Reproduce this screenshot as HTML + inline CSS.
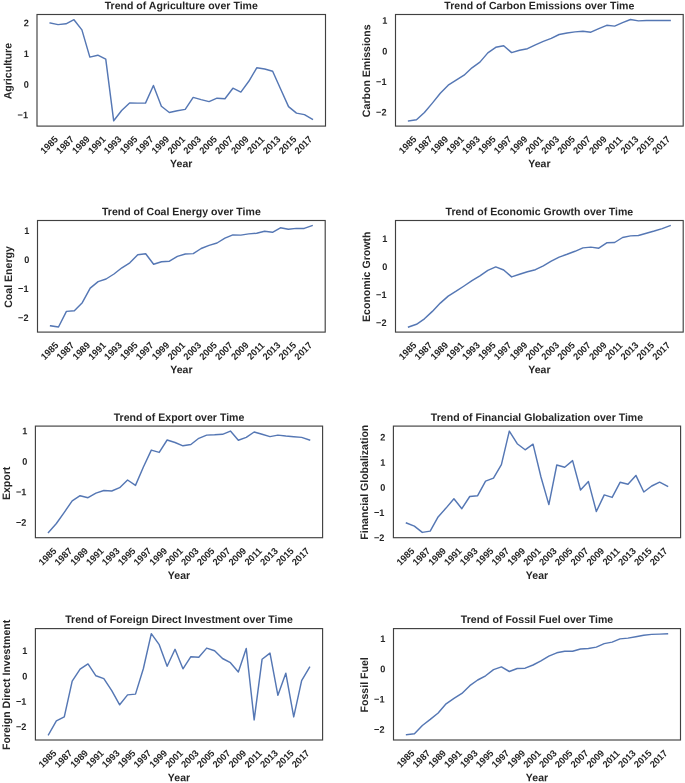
<!DOCTYPE html>
<html><head><meta charset="utf-8"><style>
html,body{margin:0;padding:0;background:#fff;}
svg{display:block;will-change:transform;}
text{font-family:"Liberation Sans", sans-serif;font-weight:bold;fill:#262626;text-rendering:geometricPrecision;}
</style></head><body>
<svg width="685" height="783" viewBox="0 0 685 783">

<rect width="685" height="783" fill="#fff"/>
<g><polyline points="50.11,23 58.06,24.6 66.01,23.8 73.96,19.7 81.9,29.9 89.85,57.1 97.8,55.2 105.75,59.2 113.69,120.8 121.64,110.5 129.59,102.9 137.54,103.1 145.49,103.1 153.43,85.5 161.38,106.2 169.33,112.5 177.28,110.8 185.22,109.4 193.17,97.4 201.12,99.6 209.07,101.6 217.01,98.2 224.96,98.7 232.91,88.2 240.86,92.1 248.81,81.3 256.75,67.8 264.7,69 272.65,71.3 280.6,89 288.54,106.6 296.49,113.1 304.44,114.6 312.39,119.2" fill="none" stroke="#5577b4" stroke-width="1.45" stroke-linejoin="round" stroke-linecap="square"/><rect x="37" y="14.5" width="288.5" height="111.6" fill="none" stroke="#404040" stroke-width="1.15"/><text transform="translate(181.25,9.3) skewX(0.3) skewY(0.05) scale(1,1.02)" text-anchor="middle" font-size="10.57">Trend of Agriculture over Time</text><text transform="translate(29,26.33) skewX(0.3) skewY(0.05) scale(1,1.035)" text-anchor="end" font-size="9.2">2</text><text transform="translate(29,56.98) skewX(0.3) skewY(0.05) scale(1,1.035)" text-anchor="end" font-size="9.2">1</text><text transform="translate(29,87.68) skewX(0.3) skewY(0.05) scale(1,1.035)" text-anchor="end" font-size="9.2">0</text><text transform="translate(28,118.33) skewX(0.3) skewY(0.05) scale(1,1.035)" text-anchor="end" font-size="9.2">−1</text><text transform="translate(49.11,144.86) rotate(-45) scale(1,1.035)" x="0" y="3.16" text-anchor="middle" font-size="9.2">1985</text><text transform="translate(65.01,144.86) rotate(-45) scale(1,1.035)" x="0" y="3.16" text-anchor="middle" font-size="9.2">1987</text><text transform="translate(80.9,144.86) rotate(-45) scale(1,1.035)" x="0" y="3.16" text-anchor="middle" font-size="9.2">1989</text><text transform="translate(96.8,144.86) rotate(-45) scale(1,1.035)" x="0" y="3.16" text-anchor="middle" font-size="9.2">1991</text><text transform="translate(112.69,144.86) rotate(-45) scale(1,1.035)" x="0" y="3.16" text-anchor="middle" font-size="9.2">1993</text><text transform="translate(128.59,144.86) rotate(-45) scale(1,1.035)" x="0" y="3.16" text-anchor="middle" font-size="9.2">1995</text><text transform="translate(144.49,144.86) rotate(-45) scale(1,1.035)" x="0" y="3.16" text-anchor="middle" font-size="9.2">1997</text><text transform="translate(160.38,144.86) rotate(-45) scale(1,1.035)" x="0" y="3.16" text-anchor="middle" font-size="9.2">1999</text><text transform="translate(176.28,144.86) rotate(-45) scale(1,1.035)" x="0" y="3.16" text-anchor="middle" font-size="9.2">2001</text><text transform="translate(192.17,144.86) rotate(-45) scale(1,1.035)" x="0" y="3.16" text-anchor="middle" font-size="9.2">2003</text><text transform="translate(208.07,144.86) rotate(-45) scale(1,1.035)" x="0" y="3.16" text-anchor="middle" font-size="9.2">2005</text><text transform="translate(223.96,144.86) rotate(-45) scale(1,1.035)" x="0" y="3.16" text-anchor="middle" font-size="9.2">2007</text><text transform="translate(239.86,144.86) rotate(-45) scale(1,1.035)" x="0" y="3.16" text-anchor="middle" font-size="9.2">2009</text><text transform="translate(255.75,144.86) rotate(-45) scale(1,1.035)" x="0" y="3.16" text-anchor="middle" font-size="9.2">2011</text><text transform="translate(271.65,144.86) rotate(-45) scale(1,1.035)" x="0" y="3.16" text-anchor="middle" font-size="9.2">2013</text><text transform="translate(287.54,144.86) rotate(-45) scale(1,1.035)" x="0" y="3.16" text-anchor="middle" font-size="9.2">2015</text><text transform="translate(303.44,144.86) rotate(-45) scale(1,1.035)" x="0" y="3.16" text-anchor="middle" font-size="9.2">2017</text><text transform="translate(181.25,167.2) skewX(0.3) skewY(0.05) scale(1,1.02)" text-anchor="middle" font-size="10.57">Year</text><text transform="translate(11.6,71.15) rotate(-90) skewX(0.3) skewY(0.05) scale(1,1.02)" text-anchor="middle" font-size="10.57">Agriculture</text></g>
<g><polyline points="408.58,121 416.5,119.8 424.43,112.5 432.35,103.1 440.28,93.3 448.21,85.2 456.13,80.2 464.06,75.2 471.98,67.8 479.91,62.1 487.83,52.9 495.76,47.3 503.68,45.7 511.61,52.6 519.54,50.2 527.46,48.7 535.39,44.8 543.31,41.4 551.24,38.4 559.16,34.5 567.09,33 575.02,31.9 582.94,31.2 590.87,32.2 598.79,28.6 606.72,25.3 614.64,26.1 622.57,22.6 630.49,19.5 638.42,20.9 646.35,20.5 654.27,20.5 662.2,20.5 670.12,20.5" fill="none" stroke="#5577b4" stroke-width="1.45" stroke-linejoin="round" stroke-linecap="square"/><rect x="395.5" y="14.5" width="287.7" height="111.6" fill="none" stroke="#404040" stroke-width="1.15"/><text transform="translate(539.35,9.3) skewX(0.3) skewY(0.05) scale(1,1.02)" text-anchor="middle" font-size="10.57">Trend of Carbon Emissions over Time</text><text transform="translate(387.5,23.85) skewX(0.3) skewY(0.05) scale(1,1.035)" text-anchor="end" font-size="9.2">1</text><text transform="translate(387.5,54.38) skewX(0.3) skewY(0.05) scale(1,1.035)" text-anchor="end" font-size="9.2">0</text><text transform="translate(386.5,84.91) skewX(0.3) skewY(0.05) scale(1,1.035)" text-anchor="end" font-size="9.2">−1</text><text transform="translate(386.5,115.44) skewX(0.3) skewY(0.05) scale(1,1.035)" text-anchor="end" font-size="9.2">−2</text><text transform="translate(407.58,144.86) rotate(-45) scale(1,1.035)" x="0" y="3.16" text-anchor="middle" font-size="9.2">1985</text><text transform="translate(423.43,144.86) rotate(-45) scale(1,1.035)" x="0" y="3.16" text-anchor="middle" font-size="9.2">1987</text><text transform="translate(439.28,144.86) rotate(-45) scale(1,1.035)" x="0" y="3.16" text-anchor="middle" font-size="9.2">1989</text><text transform="translate(455.13,144.86) rotate(-45) scale(1,1.035)" x="0" y="3.16" text-anchor="middle" font-size="9.2">1991</text><text transform="translate(470.98,144.86) rotate(-45) scale(1,1.035)" x="0" y="3.16" text-anchor="middle" font-size="9.2">1993</text><text transform="translate(486.83,144.86) rotate(-45) scale(1,1.035)" x="0" y="3.16" text-anchor="middle" font-size="9.2">1995</text><text transform="translate(502.68,144.86) rotate(-45) scale(1,1.035)" x="0" y="3.16" text-anchor="middle" font-size="9.2">1997</text><text transform="translate(518.54,144.86) rotate(-45) scale(1,1.035)" x="0" y="3.16" text-anchor="middle" font-size="9.2">1999</text><text transform="translate(534.39,144.86) rotate(-45) scale(1,1.035)" x="0" y="3.16" text-anchor="middle" font-size="9.2">2001</text><text transform="translate(550.24,144.86) rotate(-45) scale(1,1.035)" x="0" y="3.16" text-anchor="middle" font-size="9.2">2003</text><text transform="translate(566.09,144.86) rotate(-45) scale(1,1.035)" x="0" y="3.16" text-anchor="middle" font-size="9.2">2005</text><text transform="translate(581.94,144.86) rotate(-45) scale(1,1.035)" x="0" y="3.16" text-anchor="middle" font-size="9.2">2007</text><text transform="translate(597.79,144.86) rotate(-45) scale(1,1.035)" x="0" y="3.16" text-anchor="middle" font-size="9.2">2009</text><text transform="translate(613.64,144.86) rotate(-45) scale(1,1.035)" x="0" y="3.16" text-anchor="middle" font-size="9.2">2011</text><text transform="translate(629.49,144.86) rotate(-45) scale(1,1.035)" x="0" y="3.16" text-anchor="middle" font-size="9.2">2013</text><text transform="translate(645.35,144.86) rotate(-45) scale(1,1.035)" x="0" y="3.16" text-anchor="middle" font-size="9.2">2015</text><text transform="translate(661.2,144.86) rotate(-45) scale(1,1.035)" x="0" y="3.16" text-anchor="middle" font-size="9.2">2017</text><text transform="translate(539.35,167.2) skewX(0.3) skewY(0.05) scale(1,1.02)" text-anchor="middle" font-size="10.57">Year</text><text transform="translate(370.1,70.75) rotate(-90) skewX(0.3) skewY(0.05) scale(1,1.02)" text-anchor="middle" font-size="10.57">Carbon Emissions</text></g>
<g><polyline points="50.58,325.8 58.5,327 66.43,311.4 74.35,310.8 82.28,302.7 90.21,288.1 98.13,281.6 106.06,279 113.98,274 121.91,267.8 129.83,262.8 137.76,254.7 145.68,253.7 153.61,264.3 161.54,261.7 169.46,261.2 177.39,256.4 185.31,254 193.24,253.6 201.16,248.5 209.09,245.4 217.02,243 224.94,238.2 232.87,234.9 240.79,235.1 248.72,233.9 256.64,233.3 264.57,231.3 272.49,232.3 280.42,227.8 288.35,229.2 296.27,228.4 304.2,228.4 312.12,225.6" fill="none" stroke="#5577b4" stroke-width="1.45" stroke-linejoin="round" stroke-linecap="square"/><rect x="37.5" y="220.5" width="287.7" height="111.6" fill="none" stroke="#404040" stroke-width="1.15"/><text transform="translate(181.35,215.3) skewX(0.3) skewY(0.05) scale(1,1.02)" text-anchor="middle" font-size="10.57">Trend of Coal Energy over Time</text><text transform="translate(29.5,233.88) skewX(0.3) skewY(0.05) scale(1,1.035)" text-anchor="end" font-size="9.2">1</text><text transform="translate(29.5,262.88) skewX(0.3) skewY(0.05) scale(1,1.035)" text-anchor="end" font-size="9.2">0</text><text transform="translate(28.5,291.88) skewX(0.3) skewY(0.05) scale(1,1.035)" text-anchor="end" font-size="9.2">−1</text><text transform="translate(28.5,320.98) skewX(0.3) skewY(0.05) scale(1,1.035)" text-anchor="end" font-size="9.2">−2</text><text transform="translate(49.58,350.86) rotate(-45) scale(1,1.035)" x="0" y="3.16" text-anchor="middle" font-size="9.2">1985</text><text transform="translate(65.43,350.86) rotate(-45) scale(1,1.035)" x="0" y="3.16" text-anchor="middle" font-size="9.2">1987</text><text transform="translate(81.28,350.86) rotate(-45) scale(1,1.035)" x="0" y="3.16" text-anchor="middle" font-size="9.2">1989</text><text transform="translate(97.13,350.86) rotate(-45) scale(1,1.035)" x="0" y="3.16" text-anchor="middle" font-size="9.2">1991</text><text transform="translate(112.98,350.86) rotate(-45) scale(1,1.035)" x="0" y="3.16" text-anchor="middle" font-size="9.2">1993</text><text transform="translate(128.83,350.86) rotate(-45) scale(1,1.035)" x="0" y="3.16" text-anchor="middle" font-size="9.2">1995</text><text transform="translate(144.68,350.86) rotate(-45) scale(1,1.035)" x="0" y="3.16" text-anchor="middle" font-size="9.2">1997</text><text transform="translate(160.54,350.86) rotate(-45) scale(1,1.035)" x="0" y="3.16" text-anchor="middle" font-size="9.2">1999</text><text transform="translate(176.39,350.86) rotate(-45) scale(1,1.035)" x="0" y="3.16" text-anchor="middle" font-size="9.2">2001</text><text transform="translate(192.24,350.86) rotate(-45) scale(1,1.035)" x="0" y="3.16" text-anchor="middle" font-size="9.2">2003</text><text transform="translate(208.09,350.86) rotate(-45) scale(1,1.035)" x="0" y="3.16" text-anchor="middle" font-size="9.2">2005</text><text transform="translate(223.94,350.86) rotate(-45) scale(1,1.035)" x="0" y="3.16" text-anchor="middle" font-size="9.2">2007</text><text transform="translate(239.79,350.86) rotate(-45) scale(1,1.035)" x="0" y="3.16" text-anchor="middle" font-size="9.2">2009</text><text transform="translate(255.64,350.86) rotate(-45) scale(1,1.035)" x="0" y="3.16" text-anchor="middle" font-size="9.2">2011</text><text transform="translate(271.49,350.86) rotate(-45) scale(1,1.035)" x="0" y="3.16" text-anchor="middle" font-size="9.2">2013</text><text transform="translate(287.35,350.86) rotate(-45) scale(1,1.035)" x="0" y="3.16" text-anchor="middle" font-size="9.2">2015</text><text transform="translate(303.2,350.86) rotate(-45) scale(1,1.035)" x="0" y="3.16" text-anchor="middle" font-size="9.2">2017</text><text transform="translate(181.35,373.3) skewX(0.3) skewY(0.05) scale(1,1.02)" text-anchor="middle" font-size="10.57">Year</text><text transform="translate(12.1,277) rotate(-90) skewX(0.3) skewY(0.05) scale(1,1.02)" text-anchor="middle" font-size="10.57">Coal Energy</text></g>
<g><polyline points="408.58,327 416.5,324.3 424.43,318.8 432.35,311.4 440.28,303.1 448.21,296.1 456.13,291.2 464.06,286 471.98,280.6 479.91,275.8 487.83,270.4 495.76,266.9 503.68,270 511.61,276.9 519.54,274.3 527.46,271.7 535.39,269.7 543.31,265.8 551.24,261.2 559.16,257.1 567.09,254.3 575.02,251.3 582.94,247.9 590.87,247.1 598.79,248.2 606.72,242.8 614.64,242.5 622.57,237.5 630.49,235.9 638.42,235.5 646.35,233.2 654.27,231 662.2,228.6 670.12,225.6" fill="none" stroke="#5577b4" stroke-width="1.45" stroke-linejoin="round" stroke-linecap="square"/><rect x="395.5" y="220.5" width="287.7" height="111.6" fill="none" stroke="#404040" stroke-width="1.15"/><text transform="translate(539.35,215.3) skewX(0.3) skewY(0.05) scale(1,1.02)" text-anchor="middle" font-size="10.57">Trend of Economic Growth over Time</text><text transform="translate(387.5,242.08) skewX(0.3) skewY(0.05) scale(1,1.035)" text-anchor="end" font-size="9.2">1</text><text transform="translate(387.5,270.08) skewX(0.3) skewY(0.05) scale(1,1.035)" text-anchor="end" font-size="9.2">0</text><text transform="translate(386.5,298.08) skewX(0.3) skewY(0.05) scale(1,1.035)" text-anchor="end" font-size="9.2">−1</text><text transform="translate(386.5,325.98) skewX(0.3) skewY(0.05) scale(1,1.035)" text-anchor="end" font-size="9.2">−2</text><text transform="translate(407.58,350.86) rotate(-45) scale(1,1.035)" x="0" y="3.16" text-anchor="middle" font-size="9.2">1985</text><text transform="translate(423.43,350.86) rotate(-45) scale(1,1.035)" x="0" y="3.16" text-anchor="middle" font-size="9.2">1987</text><text transform="translate(439.28,350.86) rotate(-45) scale(1,1.035)" x="0" y="3.16" text-anchor="middle" font-size="9.2">1989</text><text transform="translate(455.13,350.86) rotate(-45) scale(1,1.035)" x="0" y="3.16" text-anchor="middle" font-size="9.2">1991</text><text transform="translate(470.98,350.86) rotate(-45) scale(1,1.035)" x="0" y="3.16" text-anchor="middle" font-size="9.2">1993</text><text transform="translate(486.83,350.86) rotate(-45) scale(1,1.035)" x="0" y="3.16" text-anchor="middle" font-size="9.2">1995</text><text transform="translate(502.68,350.86) rotate(-45) scale(1,1.035)" x="0" y="3.16" text-anchor="middle" font-size="9.2">1997</text><text transform="translate(518.54,350.86) rotate(-45) scale(1,1.035)" x="0" y="3.16" text-anchor="middle" font-size="9.2">1999</text><text transform="translate(534.39,350.86) rotate(-45) scale(1,1.035)" x="0" y="3.16" text-anchor="middle" font-size="9.2">2001</text><text transform="translate(550.24,350.86) rotate(-45) scale(1,1.035)" x="0" y="3.16" text-anchor="middle" font-size="9.2">2003</text><text transform="translate(566.09,350.86) rotate(-45) scale(1,1.035)" x="0" y="3.16" text-anchor="middle" font-size="9.2">2005</text><text transform="translate(581.94,350.86) rotate(-45) scale(1,1.035)" x="0" y="3.16" text-anchor="middle" font-size="9.2">2007</text><text transform="translate(597.79,350.86) rotate(-45) scale(1,1.035)" x="0" y="3.16" text-anchor="middle" font-size="9.2">2009</text><text transform="translate(613.64,350.86) rotate(-45) scale(1,1.035)" x="0" y="3.16" text-anchor="middle" font-size="9.2">2011</text><text transform="translate(629.49,350.86) rotate(-45) scale(1,1.035)" x="0" y="3.16" text-anchor="middle" font-size="9.2">2013</text><text transform="translate(645.35,350.86) rotate(-45) scale(1,1.035)" x="0" y="3.16" text-anchor="middle" font-size="9.2">2015</text><text transform="translate(661.2,350.86) rotate(-45) scale(1,1.035)" x="0" y="3.16" text-anchor="middle" font-size="9.2">2017</text><text transform="translate(539.35,373.3) skewX(0.3) skewY(0.05) scale(1,1.02)" text-anchor="middle" font-size="10.57">Year</text><text transform="translate(370.1,276.8) rotate(-90) skewX(0.3) skewY(0.05) scale(1,1.02)" text-anchor="middle" font-size="10.57">Economic Growth</text></g>
<g><polyline points="48.45,532.4 56.37,523.5 64.28,512.3 72.19,500.8 80.1,495.7 88.01,497.7 95.93,493.1 103.84,490.5 111.75,491 119.66,487.7 127.57,480 135.48,485.4 143.4,467 151.31,450.1 159.22,452.4 167.13,440 175.04,442.5 182.96,445.8 190.87,444.5 198.78,438.3 206.69,435.1 214.6,434.8 222.52,434.3 230.43,431.1 238.34,440.2 246.25,437.4 254.16,432 262.07,434.3 269.99,436.6 277.9,435.1 285.81,436 293.72,436.7 301.63,437.4 309.55,440" fill="none" stroke="#5577b4" stroke-width="1.45" stroke-linejoin="round" stroke-linecap="square"/><rect x="35.4" y="426.1" width="287.2" height="111.6" fill="none" stroke="#404040" stroke-width="1.15"/><text transform="translate(179,421) skewX(0.3) skewY(0.05) scale(1,1.02)" text-anchor="middle" font-size="10.57">Trend of Export over Time</text><text transform="translate(27.4,434.23) skewX(0.3) skewY(0.05) scale(1,1.035)" text-anchor="end" font-size="9.2">1</text><text transform="translate(27.4,464.73) skewX(0.3) skewY(0.05) scale(1,1.035)" text-anchor="end" font-size="9.2">0</text><text transform="translate(26.4,495.23) skewX(0.3) skewY(0.05) scale(1,1.035)" text-anchor="end" font-size="9.2">−1</text><text transform="translate(26.4,525.73) skewX(0.3) skewY(0.05) scale(1,1.035)" text-anchor="end" font-size="9.2">−2</text><text transform="translate(47.45,556.46) rotate(-45) scale(1,1.035)" x="0" y="3.16" text-anchor="middle" font-size="9.2">1985</text><text transform="translate(63.28,556.46) rotate(-45) scale(1,1.035)" x="0" y="3.16" text-anchor="middle" font-size="9.2">1987</text><text transform="translate(79.1,556.46) rotate(-45) scale(1,1.035)" x="0" y="3.16" text-anchor="middle" font-size="9.2">1989</text><text transform="translate(94.93,556.46) rotate(-45) scale(1,1.035)" x="0" y="3.16" text-anchor="middle" font-size="9.2">1991</text><text transform="translate(110.75,556.46) rotate(-45) scale(1,1.035)" x="0" y="3.16" text-anchor="middle" font-size="9.2">1993</text><text transform="translate(126.57,556.46) rotate(-45) scale(1,1.035)" x="0" y="3.16" text-anchor="middle" font-size="9.2">1995</text><text transform="translate(142.4,556.46) rotate(-45) scale(1,1.035)" x="0" y="3.16" text-anchor="middle" font-size="9.2">1997</text><text transform="translate(158.22,556.46) rotate(-45) scale(1,1.035)" x="0" y="3.16" text-anchor="middle" font-size="9.2">1999</text><text transform="translate(174.04,556.46) rotate(-45) scale(1,1.035)" x="0" y="3.16" text-anchor="middle" font-size="9.2">2001</text><text transform="translate(189.87,556.46) rotate(-45) scale(1,1.035)" x="0" y="3.16" text-anchor="middle" font-size="9.2">2003</text><text transform="translate(205.69,556.46) rotate(-45) scale(1,1.035)" x="0" y="3.16" text-anchor="middle" font-size="9.2">2005</text><text transform="translate(221.52,556.46) rotate(-45) scale(1,1.035)" x="0" y="3.16" text-anchor="middle" font-size="9.2">2007</text><text transform="translate(237.34,556.46) rotate(-45) scale(1,1.035)" x="0" y="3.16" text-anchor="middle" font-size="9.2">2009</text><text transform="translate(253.16,556.46) rotate(-45) scale(1,1.035)" x="0" y="3.16" text-anchor="middle" font-size="9.2">2011</text><text transform="translate(268.99,556.46) rotate(-45) scale(1,1.035)" x="0" y="3.16" text-anchor="middle" font-size="9.2">2013</text><text transform="translate(284.81,556.46) rotate(-45) scale(1,1.035)" x="0" y="3.16" text-anchor="middle" font-size="9.2">2015</text><text transform="translate(300.63,556.46) rotate(-45) scale(1,1.035)" x="0" y="3.16" text-anchor="middle" font-size="9.2">2017</text><text transform="translate(179,578.9) skewX(0.3) skewY(0.05) scale(1,1.02)" text-anchor="middle" font-size="10.57">Year</text><text transform="translate(10,483.4) rotate(-90) skewX(0.3) skewY(0.05) scale(1,1.02)" text-anchor="middle" font-size="10.57">Export</text></g>
<g><polyline points="406.45,523 414.37,526.1 422.28,532.4 430.19,531.1 438.1,516.9 446.01,508.1 453.93,498.8 461.84,508.7 469.75,496.5 477.66,495.7 485.57,481.1 493.48,478.1 501.4,464.7 509.31,431.1 517.22,443.7 525.13,449.8 533.04,444.2 540.96,477 548.87,504.6 556.78,465 564.69,467.3 572.6,460.6 580.52,490 588.43,481.6 596.34,511.5 604.25,494.9 612.16,497.4 620.07,482.3 627.99,484.2 635.9,475.4 643.81,492 651.72,486 659.63,482.2 667.55,486.3" fill="none" stroke="#5577b4" stroke-width="1.45" stroke-linejoin="round" stroke-linecap="square"/><rect x="393.4" y="426.1" width="287.2" height="111.6" fill="none" stroke="#404040" stroke-width="1.15"/><text transform="translate(537,421) skewX(0.3) skewY(0.05) scale(1,1.02)" text-anchor="middle" font-size="10.57">Trend of Financial Globalization over Time</text><text transform="translate(385.4,440.58) skewX(0.3) skewY(0.05) scale(1,1.035)" text-anchor="end" font-size="9.2">2</text><text transform="translate(385.4,465.68) skewX(0.3) skewY(0.05) scale(1,1.035)" text-anchor="end" font-size="9.2">1</text><text transform="translate(385.4,490.78) skewX(0.3) skewY(0.05) scale(1,1.035)" text-anchor="end" font-size="9.2">0</text><text transform="translate(384.4,515.88) skewX(0.3) skewY(0.05) scale(1,1.035)" text-anchor="end" font-size="9.2">−1</text><text transform="translate(384.4,540.98) skewX(0.3) skewY(0.05) scale(1,1.035)" text-anchor="end" font-size="9.2">−2</text><text transform="translate(405.45,556.46) rotate(-45) scale(1,1.035)" x="0" y="3.16" text-anchor="middle" font-size="9.2">1985</text><text transform="translate(421.28,556.46) rotate(-45) scale(1,1.035)" x="0" y="3.16" text-anchor="middle" font-size="9.2">1987</text><text transform="translate(437.1,556.46) rotate(-45) scale(1,1.035)" x="0" y="3.16" text-anchor="middle" font-size="9.2">1989</text><text transform="translate(452.93,556.46) rotate(-45) scale(1,1.035)" x="0" y="3.16" text-anchor="middle" font-size="9.2">1991</text><text transform="translate(468.75,556.46) rotate(-45) scale(1,1.035)" x="0" y="3.16" text-anchor="middle" font-size="9.2">1993</text><text transform="translate(484.57,556.46) rotate(-45) scale(1,1.035)" x="0" y="3.16" text-anchor="middle" font-size="9.2">1995</text><text transform="translate(500.4,556.46) rotate(-45) scale(1,1.035)" x="0" y="3.16" text-anchor="middle" font-size="9.2">1997</text><text transform="translate(516.22,556.46) rotate(-45) scale(1,1.035)" x="0" y="3.16" text-anchor="middle" font-size="9.2">1999</text><text transform="translate(532.04,556.46) rotate(-45) scale(1,1.035)" x="0" y="3.16" text-anchor="middle" font-size="9.2">2001</text><text transform="translate(547.87,556.46) rotate(-45) scale(1,1.035)" x="0" y="3.16" text-anchor="middle" font-size="9.2">2003</text><text transform="translate(563.69,556.46) rotate(-45) scale(1,1.035)" x="0" y="3.16" text-anchor="middle" font-size="9.2">2005</text><text transform="translate(579.52,556.46) rotate(-45) scale(1,1.035)" x="0" y="3.16" text-anchor="middle" font-size="9.2">2007</text><text transform="translate(595.34,556.46) rotate(-45) scale(1,1.035)" x="0" y="3.16" text-anchor="middle" font-size="9.2">2009</text><text transform="translate(611.16,556.46) rotate(-45) scale(1,1.035)" x="0" y="3.16" text-anchor="middle" font-size="9.2">2011</text><text transform="translate(626.99,556.46) rotate(-45) scale(1,1.035)" x="0" y="3.16" text-anchor="middle" font-size="9.2">2013</text><text transform="translate(642.81,556.46) rotate(-45) scale(1,1.035)" x="0" y="3.16" text-anchor="middle" font-size="9.2">2015</text><text transform="translate(658.63,556.46) rotate(-45) scale(1,1.035)" x="0" y="3.16" text-anchor="middle" font-size="9.2">2017</text><text transform="translate(537,578.9) skewX(0.3) skewY(0.05) scale(1,1.02)" text-anchor="middle" font-size="10.57">Year</text><text transform="translate(368,482.2) rotate(-90) skewX(0.3) skewY(0.05) scale(1,1.02)" text-anchor="middle" font-size="10.57">Financial Globalization</text></g>
<g><polyline points="48.45,734.8 56.37,720.9 64.28,716.8 72.19,681.2 80.1,669.2 88.01,663.9 95.93,675.8 103.84,678.6 111.75,690.7 119.66,704.8 127.57,694.9 135.48,694.1 143.4,668.5 151.31,633.7 159.22,644.7 167.13,666.2 175.04,649.3 182.96,668.8 190.87,656.7 198.78,657.3 206.69,648.1 214.6,650.8 222.52,658.5 230.43,662.7 238.34,672 246.25,648.5 254.16,719.9 262.07,659.3 269.99,653.1 277.9,695.3 285.81,673.2 293.72,716.9 301.63,680.7 309.55,667.2" fill="none" stroke="#5577b4" stroke-width="1.45" stroke-linejoin="round" stroke-linecap="square"/><rect x="35.4" y="628.6" width="287.2" height="111.4" fill="none" stroke="#404040" stroke-width="1.15"/><text transform="translate(179,623) skewX(0.3) skewY(0.05) scale(1,1.02)" text-anchor="middle" font-size="10.57">Trend of Foreign Direct Investment over Time</text><text transform="translate(27.4,654.08) skewX(0.3) skewY(0.05) scale(1,1.035)" text-anchor="end" font-size="9.2">1</text><text transform="translate(27.4,679.38) skewX(0.3) skewY(0.05) scale(1,1.035)" text-anchor="end" font-size="9.2">0</text><text transform="translate(26.4,704.68) skewX(0.3) skewY(0.05) scale(1,1.035)" text-anchor="end" font-size="9.2">−1</text><text transform="translate(26.4,729.98) skewX(0.3) skewY(0.05) scale(1,1.035)" text-anchor="end" font-size="9.2">−2</text><text transform="translate(47.45,758.76) rotate(-45) scale(1,1.035)" x="0" y="3.16" text-anchor="middle" font-size="9.2">1985</text><text transform="translate(63.28,758.76) rotate(-45) scale(1,1.035)" x="0" y="3.16" text-anchor="middle" font-size="9.2">1987</text><text transform="translate(79.1,758.76) rotate(-45) scale(1,1.035)" x="0" y="3.16" text-anchor="middle" font-size="9.2">1989</text><text transform="translate(94.93,758.76) rotate(-45) scale(1,1.035)" x="0" y="3.16" text-anchor="middle" font-size="9.2">1991</text><text transform="translate(110.75,758.76) rotate(-45) scale(1,1.035)" x="0" y="3.16" text-anchor="middle" font-size="9.2">1993</text><text transform="translate(126.57,758.76) rotate(-45) scale(1,1.035)" x="0" y="3.16" text-anchor="middle" font-size="9.2">1995</text><text transform="translate(142.4,758.76) rotate(-45) scale(1,1.035)" x="0" y="3.16" text-anchor="middle" font-size="9.2">1997</text><text transform="translate(158.22,758.76) rotate(-45) scale(1,1.035)" x="0" y="3.16" text-anchor="middle" font-size="9.2">1999</text><text transform="translate(174.04,758.76) rotate(-45) scale(1,1.035)" x="0" y="3.16" text-anchor="middle" font-size="9.2">2001</text><text transform="translate(189.87,758.76) rotate(-45) scale(1,1.035)" x="0" y="3.16" text-anchor="middle" font-size="9.2">2003</text><text transform="translate(205.69,758.76) rotate(-45) scale(1,1.035)" x="0" y="3.16" text-anchor="middle" font-size="9.2">2005</text><text transform="translate(221.52,758.76) rotate(-45) scale(1,1.035)" x="0" y="3.16" text-anchor="middle" font-size="9.2">2007</text><text transform="translate(237.34,758.76) rotate(-45) scale(1,1.035)" x="0" y="3.16" text-anchor="middle" font-size="9.2">2009</text><text transform="translate(253.16,758.76) rotate(-45) scale(1,1.035)" x="0" y="3.16" text-anchor="middle" font-size="9.2">2011</text><text transform="translate(268.99,758.76) rotate(-45) scale(1,1.035)" x="0" y="3.16" text-anchor="middle" font-size="9.2">2013</text><text transform="translate(284.81,758.76) rotate(-45) scale(1,1.035)" x="0" y="3.16" text-anchor="middle" font-size="9.2">2015</text><text transform="translate(300.63,758.76) rotate(-45) scale(1,1.035)" x="0" y="3.16" text-anchor="middle" font-size="9.2">2017</text><text transform="translate(179,781.2) skewX(0.3) skewY(0.05) scale(1,1.02)" text-anchor="middle" font-size="10.57">Year</text><text transform="translate(10,684.9) rotate(-90) skewX(0.3) skewY(0.05) scale(1,1.02)" text-anchor="middle" font-size="10.57">Foreign Direct Investment</text></g>
<g><polyline points="406.55,734.8 414.45,733.8 422.36,725.5 430.26,719.4 438.17,713 446.08,703.8 453.98,698.4 461.89,693.4 469.8,685.7 477.7,680 485.61,675.8 493.52,669.6 501.42,666.9 509.33,671.5 517.23,668.5 525.14,668.2 533.05,665 540.95,660.8 548.86,656.2 556.77,652.8 564.67,651.3 572.58,651.3 580.48,649 588.39,648.5 596.3,647.1 604.2,643.6 612.11,642.1 620.02,638.9 627.92,638.1 635.83,636.7 643.74,635.2 651.64,634.4 659.55,634.1 667.45,633.7" fill="none" stroke="#5577b4" stroke-width="1.45" stroke-linejoin="round" stroke-linecap="square"/><rect x="393.5" y="628.6" width="287" height="111.4" fill="none" stroke="#404040" stroke-width="1.15"/><text transform="translate(537,623) skewX(0.3) skewY(0.05) scale(1,1.02)" text-anchor="middle" font-size="10.57">Trend of Fossil Fuel over Time</text><text transform="translate(385.5,641.88) skewX(0.3) skewY(0.05) scale(1,1.035)" text-anchor="end" font-size="9.2">1</text><text transform="translate(385.5,672.18) skewX(0.3) skewY(0.05) scale(1,1.035)" text-anchor="end" font-size="9.2">0</text><text transform="translate(384.5,702.48) skewX(0.3) skewY(0.05) scale(1,1.035)" text-anchor="end" font-size="9.2">−1</text><text transform="translate(384.5,732.73) skewX(0.3) skewY(0.05) scale(1,1.035)" text-anchor="end" font-size="9.2">−2</text><text transform="translate(405.55,758.76) rotate(-45) scale(1,1.035)" x="0" y="3.16" text-anchor="middle" font-size="9.2">1985</text><text transform="translate(421.36,758.76) rotate(-45) scale(1,1.035)" x="0" y="3.16" text-anchor="middle" font-size="9.2">1987</text><text transform="translate(437.17,758.76) rotate(-45) scale(1,1.035)" x="0" y="3.16" text-anchor="middle" font-size="9.2">1989</text><text transform="translate(452.98,758.76) rotate(-45) scale(1,1.035)" x="0" y="3.16" text-anchor="middle" font-size="9.2">1991</text><text transform="translate(468.8,758.76) rotate(-45) scale(1,1.035)" x="0" y="3.16" text-anchor="middle" font-size="9.2">1993</text><text transform="translate(484.61,758.76) rotate(-45) scale(1,1.035)" x="0" y="3.16" text-anchor="middle" font-size="9.2">1995</text><text transform="translate(500.42,758.76) rotate(-45) scale(1,1.035)" x="0" y="3.16" text-anchor="middle" font-size="9.2">1997</text><text transform="translate(516.23,758.76) rotate(-45) scale(1,1.035)" x="0" y="3.16" text-anchor="middle" font-size="9.2">1999</text><text transform="translate(532.05,758.76) rotate(-45) scale(1,1.035)" x="0" y="3.16" text-anchor="middle" font-size="9.2">2001</text><text transform="translate(547.86,758.76) rotate(-45) scale(1,1.035)" x="0" y="3.16" text-anchor="middle" font-size="9.2">2003</text><text transform="translate(563.67,758.76) rotate(-45) scale(1,1.035)" x="0" y="3.16" text-anchor="middle" font-size="9.2">2005</text><text transform="translate(579.48,758.76) rotate(-45) scale(1,1.035)" x="0" y="3.16" text-anchor="middle" font-size="9.2">2007</text><text transform="translate(595.3,758.76) rotate(-45) scale(1,1.035)" x="0" y="3.16" text-anchor="middle" font-size="9.2">2009</text><text transform="translate(611.11,758.76) rotate(-45) scale(1,1.035)" x="0" y="3.16" text-anchor="middle" font-size="9.2">2011</text><text transform="translate(626.92,758.76) rotate(-45) scale(1,1.035)" x="0" y="3.16" text-anchor="middle" font-size="9.2">2013</text><text transform="translate(642.74,758.76) rotate(-45) scale(1,1.035)" x="0" y="3.16" text-anchor="middle" font-size="9.2">2015</text><text transform="translate(658.55,758.76) rotate(-45) scale(1,1.035)" x="0" y="3.16" text-anchor="middle" font-size="9.2">2017</text><text transform="translate(537,781.2) skewX(0.3) skewY(0.05) scale(1,1.02)" text-anchor="middle" font-size="10.57">Year</text><text transform="translate(368.1,684.85) rotate(-90) skewX(0.3) skewY(0.05) scale(1,1.02)" text-anchor="middle" font-size="10.57">Fossil Fuel</text></g>
</svg>
</body></html>
